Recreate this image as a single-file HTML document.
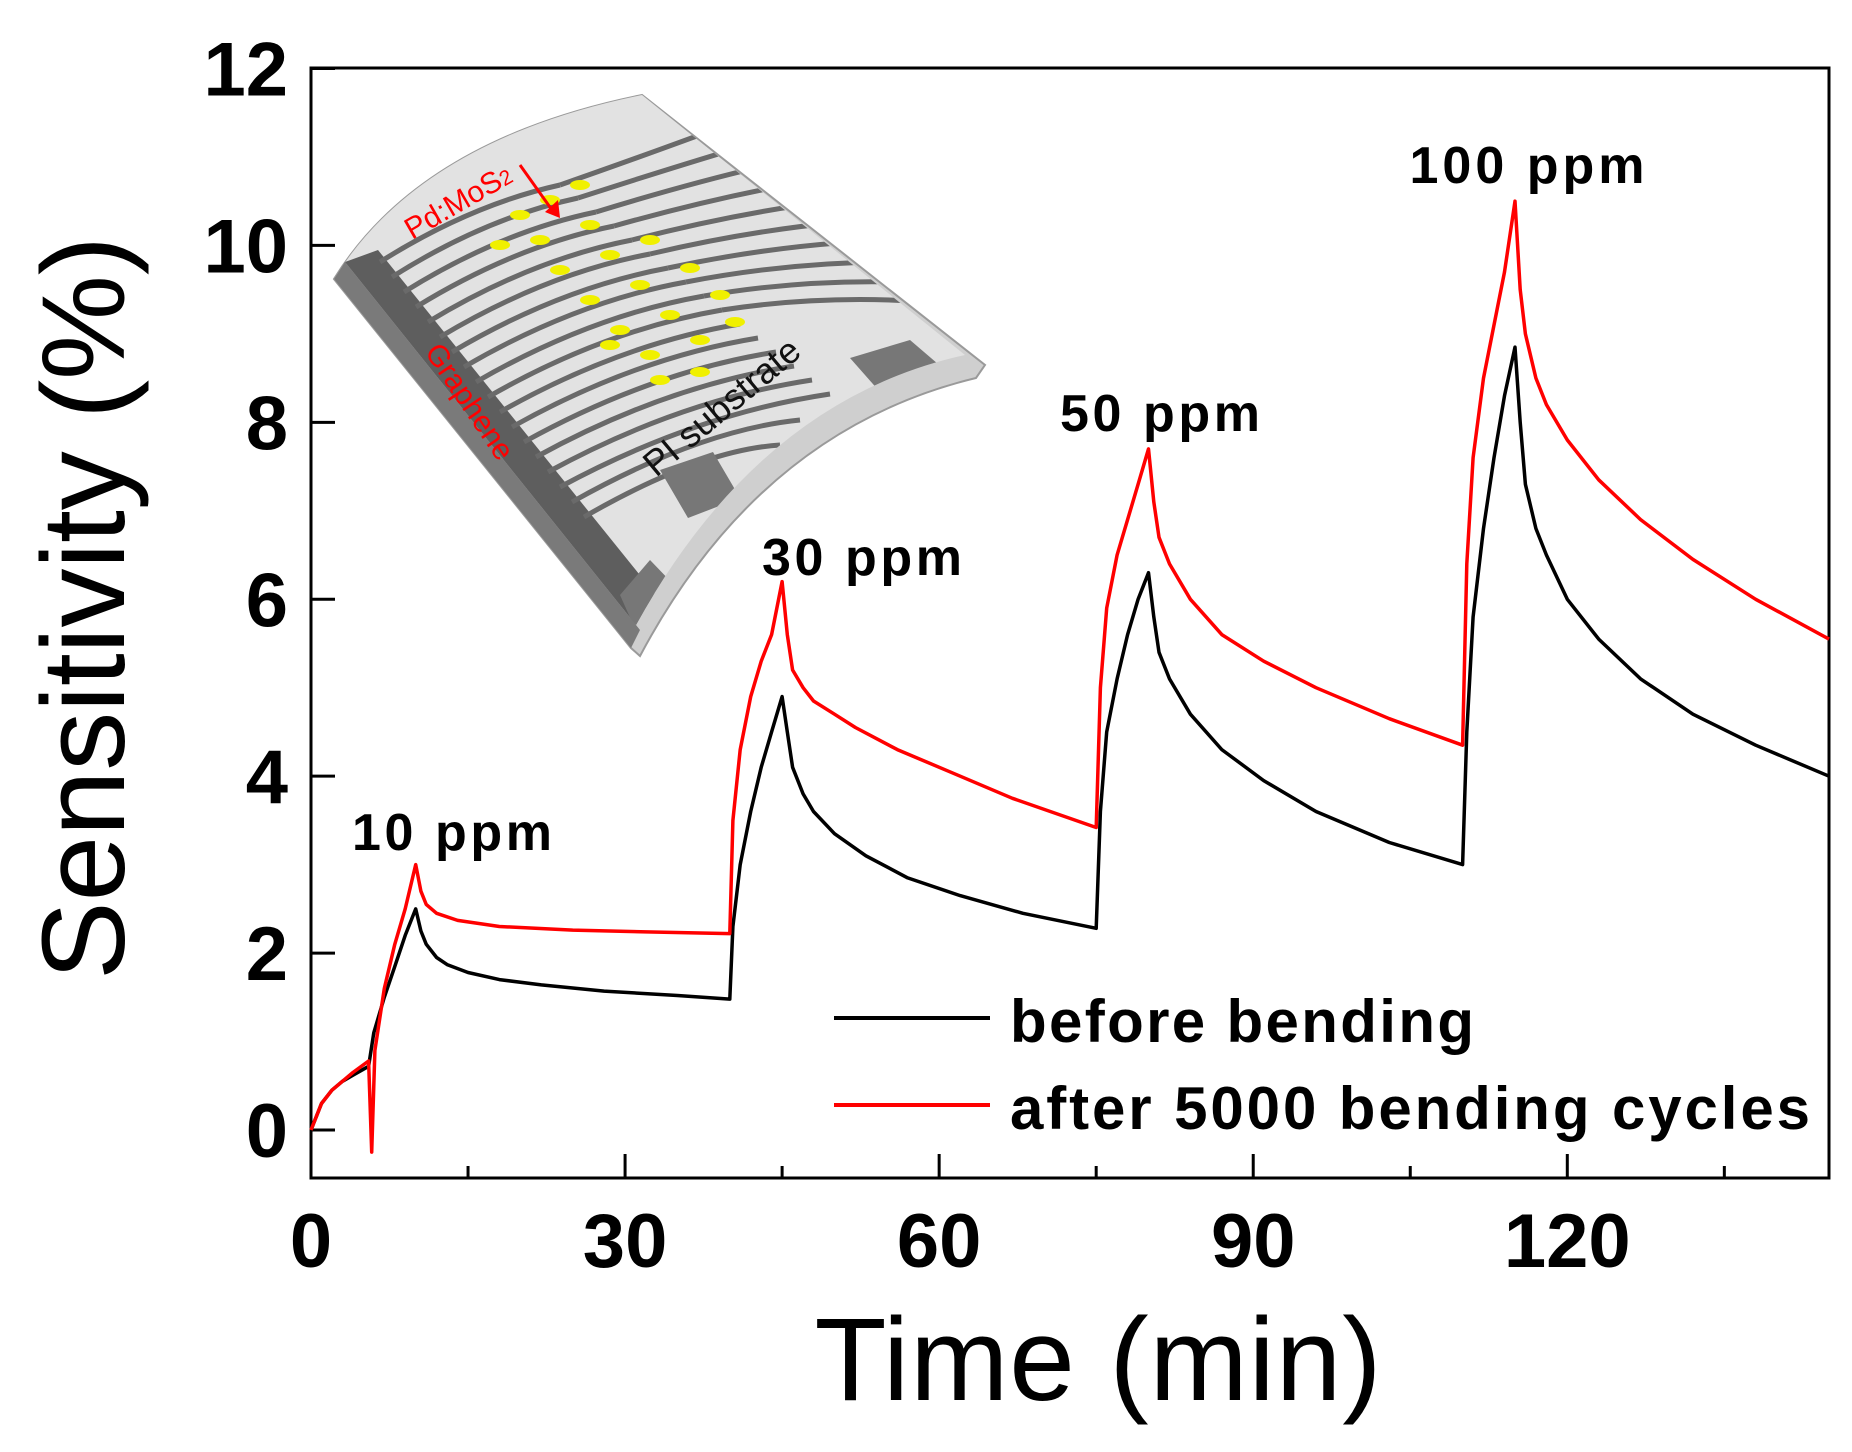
<!DOCTYPE html>
<html><head><meta charset="utf-8"><style>
html,body{margin:0;padding:0;background:#fff;}
svg{display:block;}
text{font-family:"Liberation Sans",Arial,sans-serif;}
</style></head><body>
<svg id="chart" width="1852" height="1452" viewBox="0 0 1852 1452">
<defs>
  <clipPath id="subClip"><path d="M334,279 Q420,140 642,95 L965,355 Q760,400 636,625 Z"/></clipPath>
</defs>
<g id="inset">
  <path d="M334,279 Q420,140 642,95 L985,365 L976,378 Q760,430 640,656 L631,648 Z" fill="#cfcfcf" stroke="#9a9a9a" stroke-width="2"/>
  <path d="M334,279 Q420,140 642,95 L965,355 Q760,400 636,625 Z" fill="#e2e2e2"/>
  <path d="M334,279 L345,262 L640,630 L631,648 Z" fill="#7a7a7a"/>
  <g clip-path="url(#subClip)">
    <path d="M345,262 L378,250 L668,610 L636,625 Z" fill="#5e5e5e"/>
    <g stroke="#6a6a6a" stroke-width="5" fill="none">
      <path d="M380,262 Q470,205 560,185"/><path d="M392,277 Q485,218 578,198"/>
      <path d="M404,292 Q500,232 596,212"/><path d="M416,307 Q515,246 614,226"/>
      <path d="M428,322 Q530,260 632,240"/><path d="M440,337 Q545,274 650,254"/>
      <path d="M452,352 Q560,288 668,268"/><path d="M464,367 Q575,302 686,282"/>
      <path d="M476,382 Q590,316 704,296"/><path d="M488,397 Q605,330 722,310"/>
      <path d="M500,412 Q620,344 740,324"/><path d="M512,427 Q635,358 758,338"/>
      <path d="M524,442 Q650,372 776,352"/><path d="M536,457 Q665,386 794,366"/>
      <path d="M548,472 Q680,400 812,380"/><path d="M560,487 Q695,414 830,394"/>
      <path d="M572,502 Q700,430 800,420"/><path d="M584,517 Q700,450 780,445"/>
      <path d="M560,185 Q660,150 740,120"/><path d="M578,198 Q680,165 765,140"/>
      <path d="M596,212 Q700,180 790,160"/><path d="M614,226 Q720,196 815,180"/>
      <path d="M632,240 Q740,212 840,200"/><path d="M650,254 Q760,228 865,220"/>
      <path d="M668,268 Q780,244 890,240"/><path d="M686,282 Q800,260 915,262"/>
      <path d="M704,296 Q820,276 940,284"/><path d="M722,310 Q840,292 960,305"/>
    </g>
    <g fill="#f0f000">
      <ellipse cx="520" cy="215" rx="10" ry="5"/><ellipse cx="550" cy="200" rx="10" ry="5"/><ellipse cx="580" cy="185" rx="10" ry="5"/>
      <ellipse cx="500" cy="245" rx="10" ry="5"/><ellipse cx="540" cy="240" rx="10" ry="5"/><ellipse cx="590" cy="225" rx="10" ry="5"/>
      <ellipse cx="560" cy="270" rx="10" ry="5"/><ellipse cx="610" cy="255" rx="10" ry="5"/><ellipse cx="650" cy="240" rx="10" ry="5"/>
      <ellipse cx="590" cy="300" rx="10" ry="5"/><ellipse cx="640" cy="285" rx="10" ry="5"/><ellipse cx="690" cy="268" rx="10" ry="5"/>
      <ellipse cx="620" cy="330" rx="10" ry="5"/><ellipse cx="670" cy="315" rx="10" ry="5"/><ellipse cx="720" cy="295" rx="10" ry="5"/>
      <ellipse cx="650" cy="355" rx="10" ry="5"/><ellipse cx="700" cy="340" rx="10" ry="5"/><ellipse cx="735" cy="322" rx="10" ry="5"/>
      <ellipse cx="660" cy="380" rx="10" ry="5"/><ellipse cx="700" cy="372" rx="10" ry="5"/><ellipse cx="610" cy="345" rx="10" ry="5"/>
    </g>
    <path d="M660,470 L713,452 L740,498 L688,518 Z" fill="#777"/>
    <path d="M850,358 L910,340 L945,370 L880,392 Z" fill="#777"/>
    <path d="M620,595 L650,560 L700,612 L640,640 Z" fill="#777"/>
  </g>
  <text x="0" y="0" transform="translate(412,240) rotate(-30)" font-size="30" fill="#f00">Pd:MoS<tspan font-size="21">2</tspan></text>
  <path d="M520,165 L552,210" stroke="#f00" stroke-width="3"/>
  <path d="M545,212 L560,218 L558,200 Z" fill="#f00"/>
  <text x="0" y="0" transform="translate(424,352) rotate(56)" font-size="30" fill="#f00">Graphene</text>
  <text x="0" y="0" transform="translate(656,478) rotate(-40)" font-size="36" fill="#111">PI substrate</text>
</g>
<g id="axes"></g>
<g id="series"></g>
<g id="labels">
  <text x="452" y="850" font-size="52" font-weight="bold" text-anchor="middle" textLength="200">10 ppm</text>
  <text x="862" y="575" font-size="52" font-weight="bold" text-anchor="middle" textLength="200">30 ppm</text>
  <text x="1160" y="431" font-size="52" font-weight="bold" text-anchor="middle" textLength="200">50 ppm</text>
  <text x="1527" y="183" font-size="52" font-weight="bold" text-anchor="middle" textLength="235">100 ppm</text>
</g>
<g id="legend">
  <line x1="834" y1="1018" x2="990" y2="1018" stroke="#000" stroke-width="4"/>
  <text x="1010" y="1042" font-size="60" font-weight="bold" textLength="464">before bending</text>
  <line x1="834" y1="1105" x2="990" y2="1105" stroke="#f00" stroke-width="4"/>
  <text x="1010" y="1129" font-size="60" font-weight="bold" textLength="800">after 5000 bending cycles</text>
</g>
<text x="1098" y="1400" font-size="118" text-anchor="middle" textLength="567">Time (min)</text>
<text x="0" y="0" transform="translate(124,608) rotate(-90)" font-size="118" text-anchor="middle" textLength="744">Sensitivity (%)</text>
</svg>
<script>
const xMajorTicks = [0, 30, 60, 90, 120];
const xMinorTicks = [15, 45, 75, 105, 135];
const yTicks = [0, 2, 4, 6, 8, 10, 12];
const beforeT = [0,1,2,3,4,5.5,6,7,8,9,10,10.5,11,12,13,15,18,22,28,35,40,40.3,41,42,43,44,45,45.5,46,47,48,50,53,57,62,68,75,75.4,76,77,78,79,80,80.5,81,82,84,87,91,96,103,110,110.4,111,112,113,114,115,115.5,116,117,118,120,123,127,132,138,145];
const beforeV = [0,0.3,0.45,0.55,0.62,0.72,1.1,1.5,1.85,2.2,2.5,2.25,2.1,1.95,1.87,1.78,1.7,1.64,1.57,1.52,1.48,2.3,3.0,3.6,4.1,4.5,4.9,4.5,4.1,3.8,3.6,3.35,3.1,2.85,2.65,2.45,2.28,3.6,4.5,5.1,5.6,6.0,6.3,5.8,5.4,5.1,4.7,4.3,3.95,3.6,3.25,3.0,4.5,5.8,6.8,7.6,8.3,8.85,8.0,7.3,6.8,6.5,6.0,5.55,5.1,4.7,4.35,4.0];
const afterT = [0,1,2,3,4,5.5,5.8,6.1,7,8,9,10,10.5,11,12,14,18,25,32,40,40.3,41,42,43,44,45,45.5,46,47,48,50,52,56,61,67,75,75.4,76,77,78,79,80,80.5,81,82,84,87,91,96,103,110,110.4,111,112,113,114,115,115.5,116,117,118,120,123,127,132,138,145];
const afterV = [0,0.3,0.45,0.55,0.65,0.78,-0.25,0.9,1.6,2.1,2.5,3.0,2.7,2.55,2.45,2.37,2.3,2.26,2.24,2.22,3.5,4.3,4.9,5.3,5.6,6.2,5.6,5.2,5.0,4.85,4.7,4.55,4.3,4.05,3.75,3.42,5.0,5.9,6.5,6.9,7.3,7.7,7.1,6.7,6.4,6.0,5.6,5.3,5.0,4.65,4.35,6.4,7.6,8.5,9.1,9.7,10.5,9.5,9.0,8.5,8.2,7.8,7.35,6.9,6.45,6.0,5.55];

const L=311, R=1829, T=68, B=1178;
function xs(t){return 311 + t*(1567.3-311)/120;}
function ys(v){return 1130 - v*(1130-68.5)/12;}
const NS='http://www.w3.org/2000/svg';
const axes=document.getElementById('axes');
function mk(tag,attrs,parent){const e=document.createElementNS(NS,tag);for(const k in attrs)e.setAttribute(k,attrs[k]);parent.appendChild(e);return e;}
const frame=mk('rect',{x:L,y:T,width:R-L,height:B-T,fill:'none',stroke:'#000','stroke-width':3},axes);


xMajorTicks.forEach(t=>{
  const ln=mk('line',{x1:xs(t),x2:xs(t),y1:B,y2:B-24,stroke:'#000','stroke-width':3},axes);
  
  
  const tx=mk('text',{x:xs(t),y:1267,'font-size':76,'font-weight':'bold','text-anchor':'middle'},axes);
  
  
  tx.textContent=t;
});
xMinorTicks.forEach(t=>{
  const ln=mk('line',{x1:xs(t),x2:xs(t),y1:B,y2:B-12,stroke:'#000','stroke-width':3},axes);
  
  
});
yTicks.forEach(v=>{
  const ln=mk('line',{x1:L,x2:L+24,y1:ys(v),y2:ys(v),stroke:'#000','stroke-width':3},axes);
  
  
  const tx=mk('text',{x:288,y:ys(v)+27,'font-size':76,'font-weight':'bold','text-anchor':'end'},axes);
  
  
  tx.textContent=v;
});
const ser=document.getElementById('series');
function line(ts,vs,color,name){
  const d=ts.map((t,i)=>(i?'L':'M')+xs(t).toFixed(1)+','+ys(vs[i]).toFixed(1)).join(' ');
  const p=mk('path',{d:d,fill:'none',stroke:color,'stroke-width':3.5,'stroke-linejoin':'round'},ser);
  
  
}
line(beforeT,beforeV,'#000','series-before-bending');
line(afterT,afterV,'#f00','series-after-bending');
</script>
</body></html>
